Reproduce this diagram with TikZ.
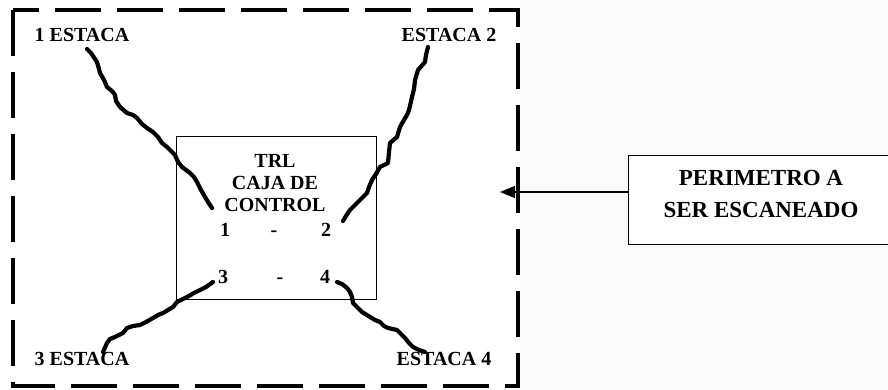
\documentclass[tikz,border=0pt]{standalone}
\usepackage{fontspec}
\setmainfont{Liberation Serif}
\usetikzlibrary{arrows.meta}
\definecolor{pagegray}{RGB}{250,250,250}
\begin{document}
\begin{tikzpicture}[x=1pt,y=-1pt,
  lbl/.style={font=\bfseries\fontsize{20}{22}\selectfont, inner sep=0pt},
  numlbl/.style={lbl, text height=13.5pt, text depth=0pt},
  biglbl/.style={font=\bfseries\fontsize{23}{32}\selectfont, inner sep=0pt, align=center},
  wire/.style={line width=4.2pt, line join=round, line cap=round},
  thinbox/.style={draw, line width=1pt, inner sep=0pt},
  perimline/.style={line width=4pt, dash pattern=on 46pt off 16pt}]
\useasboundingbox (0,0) rectangle (888,390);
\fill[pagegray] (520,0) rectangle (888,390);
% dashed perimeter
\draw[perimline] (13,10) -- (13,386) -- (518,386) -- (518,10) -- cycle;
% labels
\node[lbl] (l1) at (82,35) {1 ESTACA};
\node[lbl] (l2) at (449,35) {ESTACA 2};
\node[lbl] (l3) at (82,359) {3 ESTACA};
\node[lbl] (l4) at (444,359) {ESTACA 4};
% control box
\node[thinbox, minimum width=200pt, minimum height=162pt] (box) at (276,218) {};
\node[lbl, align=center] (trl) at (275,183) {TRL\\CAJA DE\\CONTROL};
\node[numlbl] (n1) at (225,230) {1};
\node[numlbl] (d12) at (274,230) {-};
\node[numlbl] (n2) at (326,230) {2};
\node[numlbl] (n3) at (223,277) {3};
\node[numlbl] (d34) at (280,277) {-};
\node[numlbl] (n4) at (325,277) {4};
% wire ends
\coordinate (w1s) at (87,49);  \coordinate (w1e) at (212,208);
\coordinate (w2s) at (428,47); \coordinate (w2e) at (343,221);
\coordinate (w3s) at (213,282); \coordinate (w3e) at (103,352);
\coordinate (w4s) at (337,282); \coordinate (w4e) at (425,352);
\draw[wire] (w1s) -- (91,53) -- (97,62) -- (99,69) -- (100,73) -- (104,80) -- (107,87) -- (112,91) -- (115,95) -- (116,101) -- (120,107) -- (127,113) -- (133,115) -- (137,118) -- (142,124) -- (147,128) -- (153,132) -- (158,137) -- (162,143) -- (167,147) -- (171,151) -- (175,155) -- (178,162) -- (182,167) -- (190,173) -- (194,177) -- (197,182) -- (201,190) -- (205,197) -- (208,202) -- (w1e);
\draw[wire] (w2s) -- (426,55) -- (425,62) -- (418,70) -- (415,80) -- (414,89) -- (412,97) -- (410,106) -- (408,113) -- (404,120) -- (400,127) -- (397,137) -- (390,143) -- (389,152) -- (388,163) -- (380,167) -- (376,174) -- (372,180) -- (369,187) -- (367,193) -- (360,200) -- (355,205) -- (350,210) -- (346,216) -- (w2e);
\draw[wire] (w3s) -- (206,287) -- (200,290) -- (194,293) -- (187,297) -- (177,302) -- (173,307) -- (163,313) -- (158,315) -- (153,318) -- (146,322) -- (140,325) -- (133,326) -- (127,328) -- (123,333) -- (115,337) -- (110,339) -- (107,343) -- (w3e);
\draw[wire] (w4s) -- (342,284) -- (347,288) -- (350,292) -- (352,297) -- (353,303) -- (358,308) -- (362,312) -- (370,317) -- (375,320) -- (380,322) -- (384,326) -- (388,328) -- (397,330) -- (401,334) -- (405,338) -- (409,343) -- (413,347) -- (419,350) -- (w4e);
% perimeter box
\node[thinbox, fill=white, minimum width=272pt, minimum height=88pt] (perim) at (764,200) {};
\node[biglbl] (ptxt) at (761,194) {PERIMETRO A\\SER ESCANEADO};
\coordinate (tip) at (500,192);
\draw[line width=1pt, -{Triangle[length=15pt,width=12pt]}] (perim.west |- tip) -- (tip);
\end{tikzpicture}
\end{document}
